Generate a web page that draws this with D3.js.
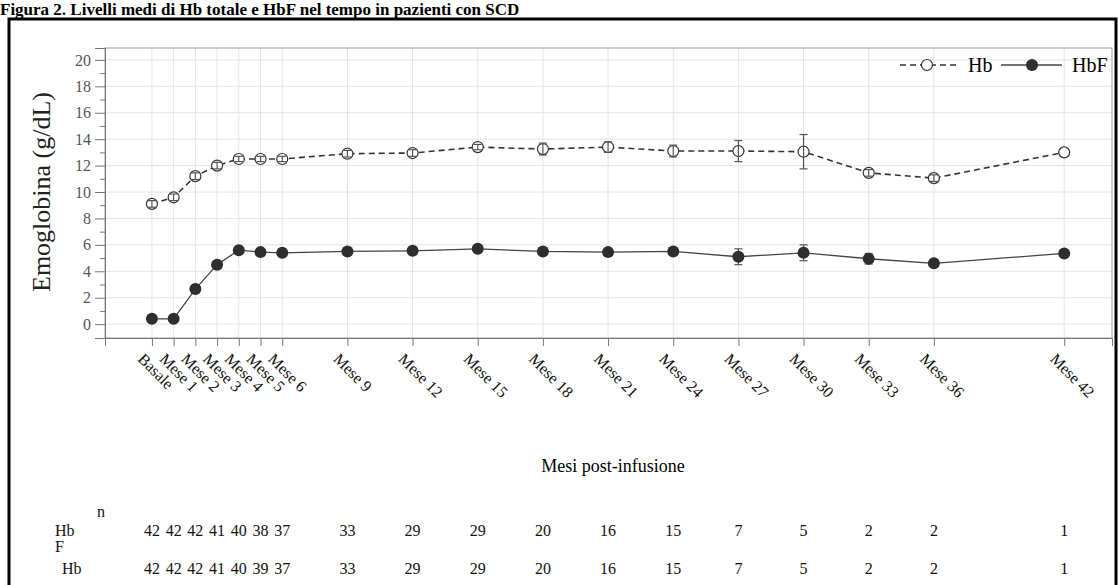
<!DOCTYPE html>
<html>
<head>
<meta charset="utf-8">
<script src="https://cdn.jsdelivr.net/npm/d3@7"></script>
<style>
  body { margin: 0; background: #fff; }
  svg { display: block; font-family: "Liberation Serif", "DejaVu Serif", serif; }
</style>
</head>
<body>
<svg id="chart" width="1119" height="585"></svg>
<script>
// Data
const months = [0, 1, 2, 3, 4, 5, 6, 9, 12, 15, 18, 21, 24, 27, 30, 33, 36, 42];
const labels = ['Basale', 'Mese 1', 'Mese 2', 'Mese 3', 'Mese 4', 'Mese 5', 'Mese 6', 'Mese 9', 'Mese 12',
  'Mese 15', 'Mese 18', 'Mese 21', 'Mese 24', 'Mese 27', 'Mese 30', 'Mese 33', 'Mese 36', 'Mese 42'];
const hbMean = [9.1, 9.6, 11.2, 12.0, 12.5, 12.5, 12.5, 12.9, 12.95, 13.4, 13.25, 13.4, 13.1, 13.1, 13.05, 11.45, 11.05, 13.0];
const hbErr = [0.25, 0.25, 0.25, 0.25, 0.2, 0.2, 0.2, 0.25, 0.25, 0.2, 0.45, 0.4, 0.45, 0.8, 1.3, 0.25, 0.25, 0];
const hbfMean = [0.4, 0.4, 2.65, 4.5, 5.6, 5.45, 5.4, 5.5, 5.55, 5.7, 5.5, 5.45, 5.5, 5.1, 5.4, 4.95, 4.6, 5.35];
const hbfErr = [0.15, 0.15, 0.15, 0.15, 0.2, 0.15, 0.15, 0.15, 0.15, 0.1, 0.15, 0.2, 0.2, 0.6, 0.6, 0.4, 0.1, 0.1];
const nHbF = [42, 42, 42, 41, 40, 38, 37, 33, 29, 29, 20, 16, 15, 7, 5, 2, 2, 1];
const nHb = [42, 42, 42, 41, 40, 39, 37, 33, 29, 29, 20, 16, 15, 7, 5, 2, 2, 1];
const yTicks = d3.range(0, 21, 2);

const svg = d3.select('#chart');
const plotL = 105, plotR = 1112, plotT = 48, plotB = 338;

const x = d3.scaleLinear().domain([-2.16, 44.2]).range([plotL, plotR]);
const y = d3.scaleLinear().domain([-1.05, 20.9]).range([plotB, plotT]);

// title and outer frame
svg.append('text').attr('x', 0).attr('y', 15)
  .attr('font-size', 17).attr('font-weight', 'bold')
  .text('Figura 2. Livelli medi di Hb totale e HbF nel tempo in pazienti con SCD');
svg.append('rect').attr('x', 9).attr('y', 19).attr('width', 1107).attr('height', 580)
  .attr('fill', 'none').attr('stroke', '#000').attr('stroke-width', 3);

// grid
svg.append('g').selectAll('line').data(yTicks).join('line')
  .attr('x1', plotL).attr('x2', plotR).attr('y1', d => y(d)).attr('y2', d => y(d))
  .attr('stroke', '#e4e4e4');
svg.append('g').selectAll('line').data(months).join('line')
  .attr('x1', d => x(d)).attr('x2', d => x(d)).attr('y1', plotT).attr('y2', plotB)
  .attr('stroke', '#e4e4e4');

// plot frame
svg.append('rect').attr('x', plotL).attr('y', plotT).attr('width', plotR - plotL).attr('height', plotB - plotT)
  .attr('fill', 'none').attr('stroke', '#a0a0a0');

// y axis
const yAxis = svg.append('g').attr('transform', `translate(${plotL},0)`)
  .call(d3.axisLeft(y).tickValues(yTicks).tickSize(10).tickPadding(4));
svg.append('g').attr('transform', `translate(${plotL},0)`)
  .call(d3.axisLeft(y).tickValues(d3.range(1, 20, 2)).tickSize(5).tickFormat(''))
  .call(g => g.select('.domain').remove());
svg.selectAll('.tick line').attr('stroke', '#777');
yAxis.select('.domain').attr('stroke', '#777');
yAxis.selectAll('text').attr('font-family', '"Liberation Serif", serif').attr('font-size', 16).attr('fill', '#555');

svg.append('text').attr('transform', 'translate(50,192) rotate(-90)')
  .attr('text-anchor', 'middle').attr('font-size', 26).attr('fill', '#222')
  .text('Emoglobina (g/dL)');

// x axis
const xAxis = svg.append('g').attr('transform', `translate(0,${plotB})`)
  .call(d3.axisBottom(x).tickValues(months).tickSize(8).tickFormat(''));
xAxis.select('.domain').attr('stroke', '#777');
xAxis.selectAll('line').attr('stroke', '#777');

svg.append('g').selectAll('text').data(months).join('text')
  .attr('transform', d => `translate(${x(d) - 15},${plotB + 22}) rotate(45)`)
  .attr('font-size', 16).attr('fill', '#111')
  .text((d, i) => labels[i]);

svg.append('text').attr('x', 613).attr('y', 472).attr('text-anchor', 'middle')
  .attr('font-size', 18).text('Mesi post-infusione');

// error bars
function errorBars(mean, err, color) {
  const g = svg.append('g').attr('stroke', color).attr('stroke-width', 1.2);
  months.forEach((m, i) => {
    if (!err[i]) return;
    const cx = x(m), y0 = y(mean[i] - err[i]), y1 = y(mean[i] + err[i]);
    g.append('line').attr('x1', cx).attr('x2', cx).attr('y1', y0).attr('y2', y1);
    g.append('line').attr('x1', cx - 4).attr('x2', cx + 4).attr('y1', y0).attr('y2', y0);
    g.append('line').attr('x1', cx - 4).attr('x2', cx + 4).attr('y1', y1).attr('y2', y1);
  });
}

// HbF: solid line, filled dots
svg.append('path').datum(months)
  .attr('d', d3.line().x(d => x(d)).y((d, i) => y(hbfMean[i])))
  .attr('fill', 'none').attr('stroke', '#444').attr('stroke-width', 1.3);
errorBars(hbfMean, hbfErr, '#555');
svg.append('g').selectAll('circle').data(months).join('circle')
  .attr('cx', d => x(d)).attr('cy', (d, i) => y(hbfMean[i])).attr('r', 6)
  .attr('fill', '#2e2e2e');

// Hb: dashed line, open circles
svg.append('path').datum(months)
  .attr('d', d3.line().x(d => x(d)).y((d, i) => y(hbMean[i])))
  .attr('fill', 'none').attr('stroke', '#333').attr('stroke-width', 1.6).attr('stroke-dasharray', '6,4');
svg.append('g').selectAll('circle').data(months).join('circle')
  .attr('cx', d => x(d)).attr('cy', (d, i) => y(hbMean[i])).attr('r', 5.5)
  .attr('fill', '#fff').attr('stroke', '#333').attr('stroke-width', 1.2);
errorBars(hbMean, hbErr, '#555');

// legend
const lg = svg.append('g').attr('font-size', 20);
lg.append('line').attr('x1', 900).attr('x2', 958).attr('y1', 65).attr('y2', 65)
  .attr('stroke', '#333').attr('stroke-width', 1.4).attr('stroke-dasharray', '6,4');
lg.append('circle').attr('cx', 927).attr('cy', 65).attr('r', 5.5).attr('fill', '#fff').attr('stroke', '#333').attr('stroke-width', 1.2);
lg.append('text').attr('x', 968).attr('y', 72).text('Hb');
lg.append('line').attr('x1', 1001).attr('x2', 1062).attr('y1', 65).attr('y2', 65)
  .attr('stroke', '#444').attr('stroke-width', 1.3);
lg.append('circle').attr('cx', 1032).attr('cy', 65).attr('r', 6).attr('fill', '#2e2e2e');
lg.append('text').attr('x', 1072).attr('y', 72).text('HbF');

// n table under the chart
const tb = svg.append('g').attr('font-size', 16).attr('fill', '#111');
tb.append('text').attr('x', 97).attr('y', 517).text('n');
tb.append('text').attr('x', 55).attr('y', 536).text('Hb');
tb.append('text').attr('x', 55).attr('y', 552).text('F');
tb.append('text').attr('x', 62).attr('y', 574).text('Hb');
tb.append('g').selectAll('text').data(months).join('text')
  .attr('x', d => x(d)).attr('y', 536).attr('text-anchor', 'middle')
  .text((d, i) => nHbF[i]);
tb.append('g').selectAll('text').data(months).join('text')
  .attr('x', d => x(d)).attr('y', 574).attr('text-anchor', 'middle')
  .text((d, i) => nHb[i]);
</script>
</body>
</html>
